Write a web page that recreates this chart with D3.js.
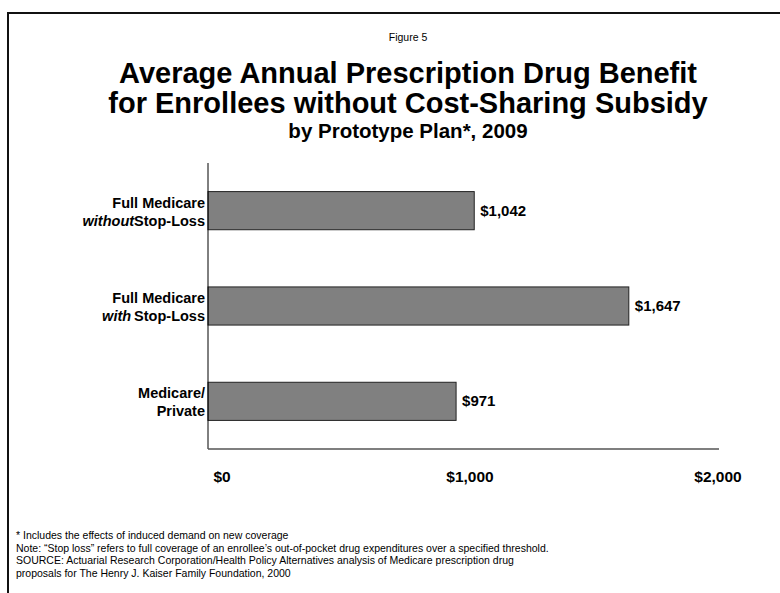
<!DOCTYPE html>
<html>
<head>
<meta charset="utf-8">
<script src="https://cdn.jsdelivr.net/npm/d3@7"></script>
<style>
  html, body { margin: 0; padding: 0; background: #fff; }
  svg { display: block; font-family: Arial, "Liberation Sans", sans-serif; }
</style>
</head>
<body>
<div id="chart"></div>
<script>
// Plan prototypes (top to bottom) and their average annual benefit, 2009
const categories = ["Full Medicare without Stop-Loss", "Full Medicare with Stop-Loss", "Medicare/Private"];
const labelLines = [
  [["Full Medicare", false]],
  [["Full Medicare", false]],
  [["Medicare/", false]]
];
const secondLines = [
  [["without", true], ["Stop-Loss", false]],
  [["with", true], ["Stop-Loss", false]],
  [["Private", false]]
];
const values = [1042, 1647, 971];
const tickValues = [0, 1000, 2000];
const tickLabels = ["$0", "$1,000", "$2,000"];
const valueLabels = ["$1,042", "$1,647", "$971"];

const figureLabel = "Figure 5";
const titleLines = [
  "Average Annual Prescription Drug Benefit",
  "for Enrollees without Cost-Sharing Subsidy"
];
const subtitle = "by Prototype Plan*, 2009";
const notes = [
  "* Includes the effects of induced demand on new coverage",
  "Note: \u201cStop loss\u201d refers to full coverage of an enrollee\u2019s out-of-pocket drug expenditures over a specified threshold.",
  "SOURCE: Actuarial Research Corporation/Health Policy Alternatives analysis of Medicare prescription drug",
  "proposals for The Henry J. Kaiser Family Foundation, 2000"
];

const W = 780, H = 593;
const svg = d3.select("#chart").append("svg").attr("width", W).attr("height", H);

// Slide frame: top and left rules
svg.append("path")
  .attr("d", `M8,593 V13 H780`)
  .attr("fill", "none").attr("stroke", "#111").attr("stroke-width", 2);

// Header
const cx = 408;
svg.append("text").attr("x", cx).attr("y", 41).attr("text-anchor", "middle")
  .attr("font-size", 10.5).text(figureLabel);
svg.selectAll("text.title").data(titleLines).join("text").attr("class", "title")
  .attr("x", cx).attr("y", (d, i) => 83 + i * 30).attr("text-anchor", "middle")
  .attr("font-size", 29).attr("font-weight", "bold").text(d => d);
svg.append("text").attr("x", cx).attr("y", 138).attr("text-anchor", "middle")
  .attr("font-size", 20.5).attr("font-weight", "bold").text(subtitle);

// Plot area
const plot = { left: 208, right: 719, top: 163, bottom: 449 };
const x = d3.scaleLinear().domain([0, 2000]).range([plot.left, plot.right]);
const y = d3.scaleBand().domain(categories).range([plot.top, plot.bottom])
  .paddingInner(0.6).paddingOuter(0.3);
// tick labels sit slightly inside the axis ends
const xLabel = d3.scaleLinear().domain([0, 2000]).range([plot.left + 14, plot.right - 1]);

const g = svg.append("g");

g.selectAll("rect.bar").data(values).join("rect").attr("class", "bar")
  .attr("x", x(0))
  .attr("y", (d, i) => y(categories[i]))
  .attr("width", d => x(d) - x(0))
  .attr("height", y.bandwidth())
  .attr("fill", "#808080").attr("stroke", "#222").attr("stroke-width", 1);

g.selectAll("text.val").data(values).join("text").attr("class", "val")
  .attr("x", d => x(d) + 6)
  .attr("y", (d, i) => y(categories[i]) + y.bandwidth() / 2 + 5)
  .attr("font-size", 15).attr("font-weight", "bold")
  .text((d, i) => valueLabels[i]);

// Axes lines
g.append("line").attr("x1", plot.left).attr("x2", plot.left)
  .attr("y1", plot.top).attr("y2", plot.bottom).attr("stroke", "#000").attr("stroke-width", 1);
g.append("line").attr("x1", plot.left).attr("x2", plot.right)
  .attr("y1", plot.bottom).attr("y2", plot.bottom).attr("stroke", "#555").attr("stroke-width", 1.5);

// X tick labels
g.selectAll("text.tick").data(tickValues).join("text").attr("class", "tick")
  .attr("x", d => xLabel(d)).attr("y", 482).attr("text-anchor", "middle")
  .attr("font-size", 15.5).attr("font-weight", "bold")
  .text((d, i) => tickLabels[i]);

// Category labels, two lines each, right-aligned to the axis
categories.forEach((c, i) => {
  const mid = y(c) + y.bandwidth() / 2;
  const t = g.append("text").attr("text-anchor", "end").attr("font-size", 14.5).attr("font-weight", "bold");
  const l1 = t.append("tspan").attr("x", plot.left - 3).attr("y", mid - 3);
  labelLines[i].forEach(([s, it]) => l1.append("tspan").attr("font-style", it ? "italic" : null).text(s));
  const l2 = t.append("tspan").attr("x", plot.left - 3).attr("y", mid + 15);
  secondLines[i].forEach(([s, it], k) => l2.append("tspan")
    .attr("dx", k > 0 && i === 1 ? 3 : null)
    .attr("font-style", it ? "italic" : null).text(s));
});

// Footnotes
svg.selectAll("text.note").data(notes).join("text").attr("class", "note")
  .attr("x", 16).attr("y", (d, i) => 539 + i * 12.5)
  .attr("font-size", 10.5).text(d => d);
</script>
</body>
</html>
